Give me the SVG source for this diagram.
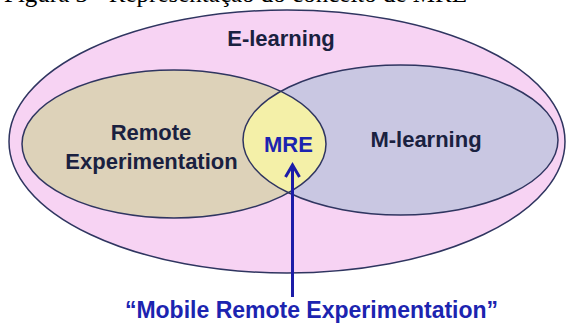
<svg xmlns="http://www.w3.org/2000/svg" width="566" height="329" viewBox="0 0 566 329">
  <style>
    .lbl { font-family: "Liberation Sans", Arial, sans-serif; font-weight: bold; font-size: 22px; text-anchor: middle; }
    .dark { fill: #1a2140; }
    .blue { fill: #1c24b0; }
    .edge { fill: none; stroke: #2f3560; stroke-width: 1.5; }
    .cap { font-family: "Liberation Serif", "Times New Roman", serif; font-size: 25px; fill: #000; }
  </style>
  <defs>
    <clipPath id="clipLeft">
      <ellipse cx="174" cy="144" rx="152" ry="74"/>
    </clipPath>
    <marker id="arrowOpen" markerUnits="userSpaceOnUse" markerWidth="20" markerHeight="20" viewBox="0 0 20 20" refX="15" refY="10" orient="auto">
      <path d="M3,3 L15,10 L3,17" fill="none" stroke="#1c1ca8" stroke-width="3"/>
    </marker>
  </defs>
  <rect width="566" height="329" fill="#ffffff"/>
  <text class="cap" x="4" y="1.5">Figura 3 - Representação do conceito de MRE</text>

  <g id="node-elearning">
    <ellipse cx="287" cy="141.5" rx="278" ry="131.5" fill="#f7d3f3" stroke="#2f3560" stroke-width="1.5"/>
    <text class="lbl dark" x="281" y="46">E-learning</text>
  </g>

  <g id="node-remote">
    <ellipse cx="174" cy="144" rx="152" ry="74" fill="#ddd2b9"/>
    <text class="lbl dark" x="151" y="140">Remote</text>
    <text class="lbl dark" x="151.5" y="169">Experimentation</text>
  </g>

  <g id="node-mlearning">
    <ellipse cx="400.5" cy="140" rx="157.5" ry="75" fill="#c9c7e2"/>
    <text class="lbl dark" x="426" y="147">M-learning</text>
  </g>

  <g id="node-mre">
    <ellipse cx="400.5" cy="140" rx="157.5" ry="75" fill="#f4f0a8" clip-path="url(#clipLeft)"/>
    <ellipse class="edge" cx="174" cy="144" rx="152" ry="74"/>
    <ellipse class="edge" cx="400.5" cy="140" rx="157.5" ry="75"/>
    <text class="lbl blue" x="288.5" y="152">MRE</text>
  </g>

  <g id="connectors">
    <line x1="292.5" y1="297" x2="292.5" y2="165" stroke="#1c1ca8" stroke-width="3" marker-end="url(#arrowOpen)"/>
  </g>

  <g id="node-mobile-label">
    <text class="lbl blue" x="311.5" y="318" style="font-size:23px">“Mobile Remote Experimentation”</text>
  </g>
</svg>
